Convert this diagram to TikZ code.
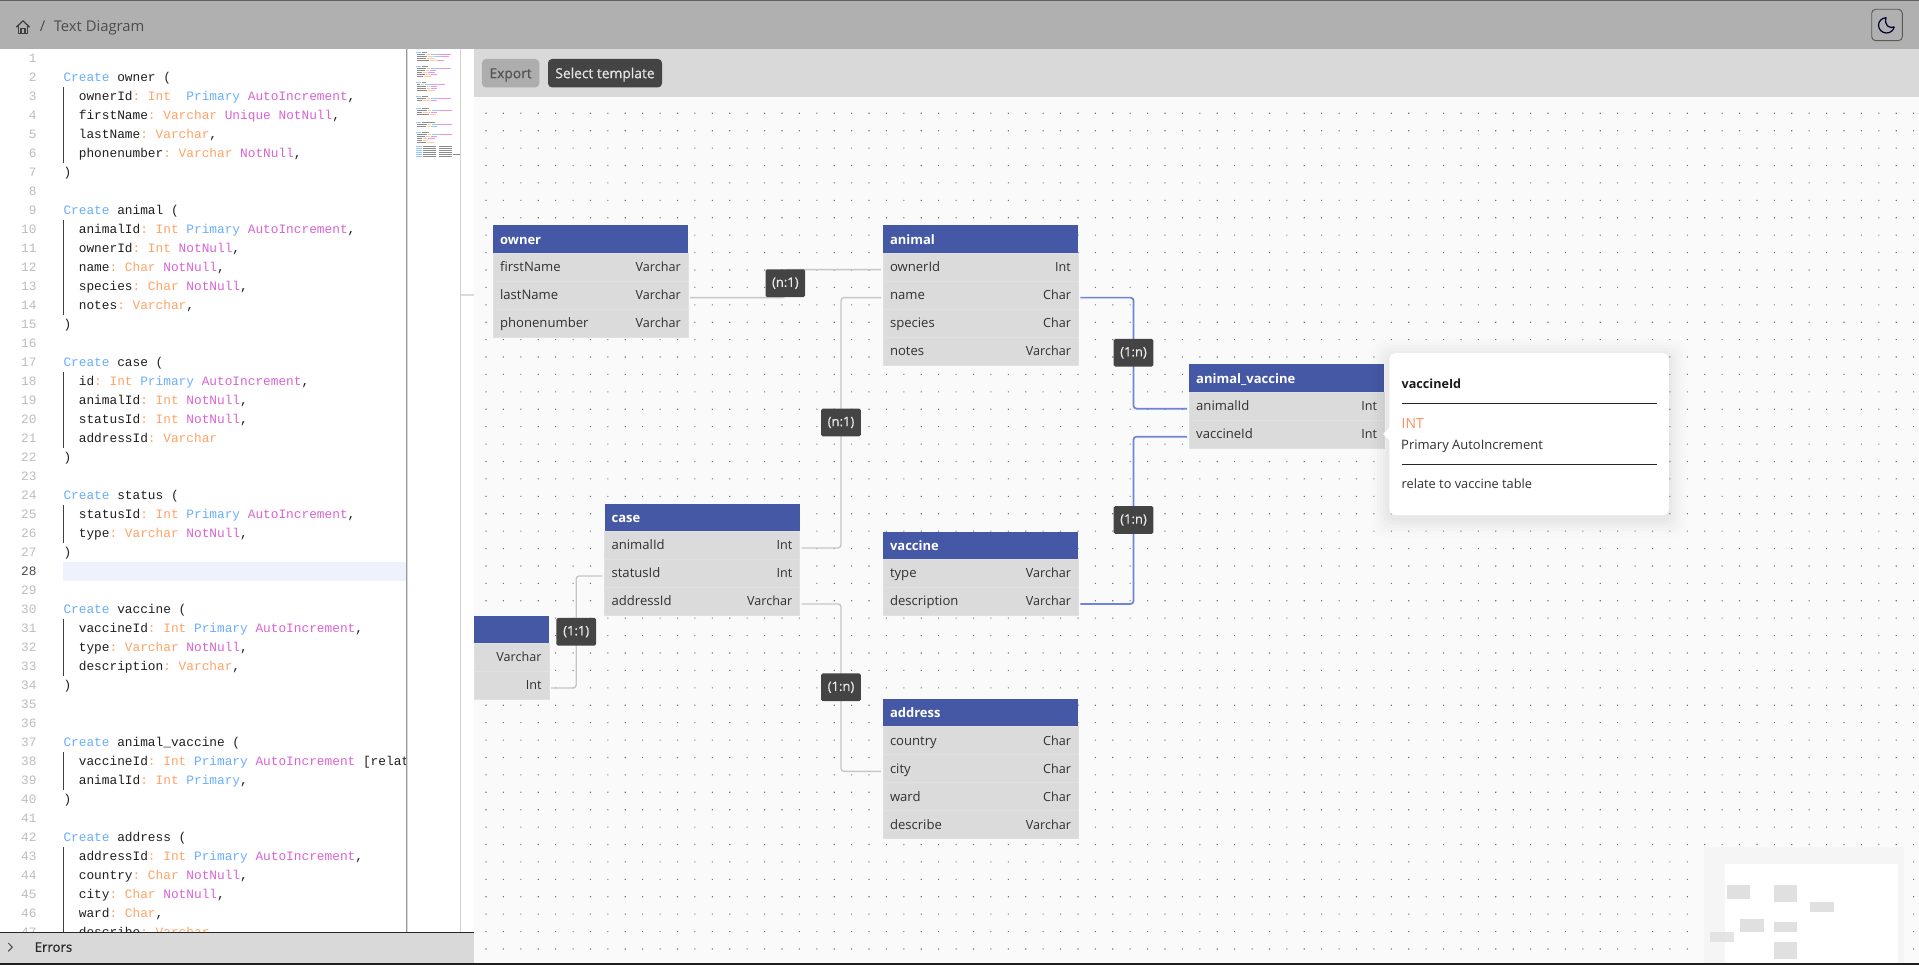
\documentclass[tikz,border=0pt]{standalone}
\usepackage{fontspec}
\setmainfont{Open Sans}
\newfontfamily\monof{Liberation Mono}
\newfontfamily\semib[FakeBold=0.6]{Open Sans}
\usetikzlibrary{calc}
\definecolor{barc}{HTML}{B0B0B0}
\definecolor{toolc}{HTML}{D9D9D9}
\definecolor{canvasc}{HTML}{FAFAFA}
\definecolor{headc}{HTML}{4558A5}
\definecolor{rowc}{HTML}{DBDBDB}
\definecolor{rowl}{HTML}{E0E0E0}
\definecolor{txtc}{HTML}{303030}
\definecolor{edgec}{HTML}{C6C6C6}
\definecolor{edgeb}{HTML}{6E84D8}
\definecolor{lblc}{HTML}{444444}
\definecolor{ckw}{HTML}{69AEFF}
\definecolor{cty}{HTML}{FFA366}
\definecolor{cint}{HTML}{FF9159}
\definecolor{cma}{HTML}{D963D3}
\definecolor{cnum}{HTML}{BDBDBD}
\definecolor{chl}{HTML}{EEF2FC}
\definecolor{mgray}{HTML}{8C8C8C}
\definecolor{mor}{HTML}{FFCB9E}
\definecolor{mbl}{HTML}{96C8FF}
\definecolor{mma}{HTML}{E896E4}
\pgfdeclarelayer{back}
\pgfdeclarelayer{edges}
\pgfsetlayers{back,edges,main}
\newcommand\cK[1]{\textcolor{ckw}{#1}}
\newcommand\cT[1]{\textcolor{cty}{#1}}
\newcommand\cM[1]{\textcolor{cma}{#1}}
\newcommand\cF[1]{#1\textcolor{cty}{:}}
\newcommand\codeline[3]{%
  \node[numtxt] (num#1) at (36.7,{58.7+(#1-1)*19+4.2}) {#1};
  \ifx&#3&\else\node[codetxt] (code#1) at ({63.3+#2*7.68},{58.7+(#1-1)*19+4.2}) {#3};\fi}
\newcommand\tbl[6]{%
  \node[thead,minimum width=#4,anchor=north west] (#1) at (#2,#3) {};
  \node[ttitle] (#1-title) at ({#2+7},{#3+19.2}) {#5};
  \foreach \k/\f/\t [count=\i from 0] in {#6} {
    \node[trow,minimum width=#4,anchor=north west] (#1-\k) at (#2,{#3+27.7+\i*28}) {};
    \node[tfield] (#1-\k-name) at ({#2+7},{#3+27.7+\i*28+18.9}) {\f};
    \node[ttype] (#1-\k-type) at ({#2+#4-7},{#3+27.7+\i*28+18.9}) {\t};
    \coordinate (#1-\k-L) at ([shift={(-2,2.8)}]#1-\k.west);
    \coordinate (#1-\k-R) at ([shift={(2,2.8)}]#1-\k.east);
  }}
\tikzset{
  numtxt/.style={anchor=base east,inner sep=0,font=\monof\frenchspacing\fontsize{12.8}{14}\selectfont,text=cnum},
  codetxt/.style={anchor=base west,inner sep=0,font=\monof\frenchspacing\fontsize{12.8}{14}\selectfont,text=black!88},
  thead/.style={fill=headc,minimum height=27.7,inner sep=0,draw=none},
  ttitle/.style={anchor=base west,inner sep=0,font=\bfseries\fontsize{13}{15}\selectfont,text=white},
  trow/.style={fill=rowc,minimum height=28,inner sep=0,draw=rowl,line width=.3},
  tfield/.style={anchor=base west,inner sep=0,font=\fontsize{13.1}{15}\selectfont,text=txtc},
  ttype/.style={anchor=base east,inner sep=0,font=\fontsize{12.6}{15}\selectfont,text=txtc},
  rellabel/.style={fill=lblc,rounded corners=1.5,minimum width=39.6,minimum height=27.7,inner sep=0,text=white!92!black,font=\semib\fontsize{13}{15}\selectfont},
  edgeg/.style={draw=edgec,line width=1.4,rounded corners=3},
  edgeh/.style={draw=edgeb,line width=1.7,rounded corners=3},
  minirect/.style={fill=black!12},
  btn/.style={rounded corners=4,inner sep=0,minimum height=28.4,font=\semib\fontsize{13.8}{15}\selectfont},
}
\begin{document}
\begin{tikzpicture}[x=1pt,y=-1pt]
\useasboundingbox (0,0) rectangle (1919,965);
\begin{pgfonlayer}{back}
  \fill[white] (0,0) rectangle (1919,965);
  \fill[canvasc] (474,97) rectangle (1919,963);
  \fill[black!55] \foreach \i in {0,...,82} { \foreach \j in {0,...,48} {
    ({486+\i*17.41-.55},{113.3+\j*17.41-.55}) rectangle ++(1.1,1.1) } };
\end{pgfonlayer}
% code panel
\fill[chl] (63,562) rectangle (406,580.7);
\foreach \a/\b in {3/6,10/14,18/21,25/26,31/33,38/39,43/47}
  \draw[black!75,line width=.8] (63.3,{58.7+(\a-1)*19-9.5}) -- (63.3,{58.7+(\b-1)*19+9.5});
\codeline{1}{0}{}
\codeline{2}{0}{\cK{Create} owner (}
\codeline{3}{2}{\cF{ownerId} \cT{Int}\ \ \cK{Primary} \cM{AutoIncrement},}
\codeline{4}{2}{\cF{firstName} \cT{Varchar} \cM{Unique} \cM{NotNull},}
\codeline{5}{2}{\cF{lastName} \cT{Varchar},}
\codeline{6}{2}{\cF{phonenumber} \cT{Varchar} \cM{NotNull},}
\codeline{7}{0}{)}
\codeline{8}{0}{}
\codeline{9}{0}{\cK{Create} animal (}
\codeline{10}{2}{\cF{animalId} \cT{Int} \cK{Primary} \cM{AutoIncrement},}
\codeline{11}{2}{\cF{ownerId} \cT{Int} \cM{NotNull},}
\codeline{12}{2}{\cF{name} \cT{Char} \cM{NotNull},}
\codeline{13}{2}{\cF{species} \cT{Char} \cM{NotNull},}
\codeline{14}{2}{\cF{notes} \cT{Varchar},}
\codeline{15}{0}{)}
\codeline{16}{0}{}
\codeline{17}{0}{\cK{Create} case (}
\codeline{18}{2}{\cF{id} \cT{Int} \cK{Primary} \cM{AutoIncrement},}
\codeline{19}{2}{\cF{animalId} \cT{Int} \cM{NotNull},}
\codeline{20}{2}{\cF{statusId} \cT{Int} \cM{NotNull},}
\codeline{21}{2}{\cF{addressId} \cT{Varchar}}
\codeline{22}{0}{)}
\codeline{23}{0}{}
\codeline{24}{0}{\cK{Create} status (}
\codeline{25}{2}{\cF{statusId} \cT{Int} \cK{Primary} \cM{AutoIncrement},}
\codeline{26}{2}{\cF{type} \cT{Varchar} \cM{NotNull},}
\codeline{27}{0}{)}
\node[numtxt,text=black!70] (num28) at (36.7,{58.7+27*19+4.2}) {28};
\codeline{29}{0}{}
\codeline{30}{0}{\cK{Create} vaccine (}
\codeline{31}{2}{\cF{vaccineId} \cT{Int} \cK{Primary} \cM{AutoIncrement},}
\codeline{32}{2}{\cF{type} \cT{Varchar} \cM{NotNull},}
\codeline{33}{2}{\cF{description} \cT{Varchar},}
\codeline{34}{0}{)}
\codeline{35}{0}{}
\codeline{36}{0}{}
\codeline{37}{0}{\cK{Create} animal\_vaccine (}
\codeline{38}{2}{\cF{vaccineId} \cT{Int} \cK{Primary} \cM{AutoIncrement} [relat}
\codeline{39}{2}{\cF{animalId} \cT{Int} \cK{Primary},}
\codeline{40}{0}{)}
\codeline{41}{0}{}
\codeline{42}{0}{\cK{Create} address (}
\codeline{43}{2}{\cF{addressId} \cT{Int} \cK{Primary} \cM{AutoIncrement},}
\codeline{44}{2}{\cF{country} \cT{Char} \cM{NotNull},}
\codeline{45}{2}{\cF{city} \cT{Char} \cM{NotNull},}
\codeline{46}{2}{\cF{ward} \cT{Char},}
\codeline{47}{2}{\cF{describe} \cT{Varchar}}
% minimap strip
\fill[white] (406,49) rectangle (474,932);
\fill[black!40] (405.6,49) rectangle (407.4,932);
\fill[black!15] (407.4,49) rectangle (408.2,932);
\draw[black!18,line width=.8] (460.5,49) -- (460.5,932);
\foreach \l/\n in {2/5,9/6,17/4,24/6,30/7,37/14,42/7} {
  \fill[mbl] (415.5,{48+\l*2}) rectangle ++(5.7,1.2);
  \fill[mgray] (421.9,{48+\l*2}) rectangle ++({\n*.95},1.2);
}
\foreach \l/\n/\t/\p/\m in {3/8/5/8/13,4/10/8/7/7,5/9/8/0/0,6/12/8/0/7,10/9/4/8/13,11/8/4/0/7,12/5/5/0/7,13/8/5/0/7,14/6/8/0/0,18/3/4/8/13,19/9/4/0/7,20/9/4/0/7,21/10/8/0/0,25/9/4/8/13,26/5/8/0/7,31/10/4/8/13,32/5/8/0/7,33/12/8/0/0,38/10/4/8/13,39/9/4/7/0,43/10/4/8/13,44/8/5/0/7,45/5/5/0/7,46/5/5/0/0,47/9/8/0/0} {
  \fill[mgray] (417.4,{48+\l*2}) rectangle ++({\n*.95},1.2);
  \fill[mor] ({417.4+(\n+1)*.95},{48+\l*2}) rectangle ++({(\t-1)*.95},1.2);
  \fill[mbl] ({417.4+(\n+1+\t)*.95},{48+\l*2}) rectangle ++({\p*.95},1.2);
  \fill[mma] ({417.4+(\n+1+\t+\p)*.95},{48+\l*2}) rectangle ++({\m*.95},1.2);
}
\foreach \l in {49,...,54} {
  \fill[mbl] (415.5,{48+\l*2}) rectangle (421.5,{49.3+\l*2});
  \fill[mgray] (423,{48+\l*2}) rectangle (436,{49.3+\l*2});
  \fill[mgray] (439,{48+\l*2}) rectangle (452,{49.3+\l*2});
}
\fill[mgray] (453,{48+53*2}) rectangle (460,{49.3+53*2});
% errors bar
\fill[toolc] (0,932) rectangle (474,963);
\draw[black!85,line width=.9] (0,932.3) -- (474,932.3);
\draw[black!70,line width=1] (8.3,943) -- (12.3,947.2) -- (8.3,951.4);
\node[anchor=base west,inner sep=0,font=\semib\fontsize{13.2}{15}\selectfont,text=black!85] (errors) at (34.5,951.8) {Errors};
% top bar
\fill[barc] (0,0) rectangle (1919,49);
\fill[black!62] (0,0) rectangle (1919,1);
\draw[black!75,line width=1.3,line join=round] (16.4,27.2) -- (23,20.8) -- (29.6,27.2);
\draw[black!75,line width=1.3,line join=round] (18.2,25.6) -- (18.2,33.6) -- (27.8,33.6) -- (27.8,25.6);
\draw[black!75,line width=1.3] (21,33.6) -- (21,28.6) -- (25,28.6) -- (25,33.6);
\node[anchor=base west,inner sep=0,font=\fontsize{15}{17}\selectfont,text=black!70] (sep) at (39.6,31.3) {/};
\node[anchor=base west,inner sep=0,font=\fontsize{14.8}{17}\selectfont,text=black!70] (crumb) at (53.6,31.3) {Text Diagram};
\draw[black!65,line width=.9,rounded corners=4] (1871.7,9.3) rectangle (1902.3,40.7);
\draw[black!80!blue,line width=1.2,line join=round] (1886,17.7) .. controls (1881.5,18) and (1878.5,21.5) .. (1878.5,25.2) .. controls (1878.5,29.5) and (1882,33) .. (1886.5,33) .. controls (1890.2,33) and (1893.3,30.5) .. (1894.2,27) .. controls (1889,29) and (1884,25) .. (1886,17.7) -- cycle;
% toolbar
\fill[toolc] (474,49) rectangle (1919,97);
\node[btn,fill=black!32,text=black!68,minimum width=57.3,text depth=0pt,text height=10pt] (export) at (510.6,73.2) {Export};
\node[btn,fill=lblc,text=white!90!black,minimum width=114,text depth=0pt,text height=10pt] (template) at (605,73.2) {Select template};
% tables
\tbl{owner}{492.9}{225}{195}{owner}{firstName/firstName/Varchar,lastName/lastName/Varchar,phonenumber/phonenumber/Varchar}
\tbl{animal}{882.8}{225}{195.3}{animal}{ownerId/ownerId/Int,name/name/Char,species/species/Char,notes/notes/Varchar}
\tbl{case}{604.4}{503.3}{195}{case}{animalId/animalId/Int,statusId/statusId/Int,addressId/addressId/Varchar}
\tbl{status}{474}{615.3}{74.7}{}{type//Varchar,statusId//Int}
\tbl{vaccine}{882.8}{531.3}{195.3}{vaccine}{type/type/Varchar,description/description/Varchar}
\tbl{address}{882.8}{698.7}{195.3}{address}{country/country/Char,city/city/Char,ward/ward/Char,describe/describe/Varchar}
\tbl{animalvaccine}{1189}{364}{195.2}{animal\_vaccine}{animalId/animalId/Int,vaccineId/vaccineId/Int}
% relation labels
\node[rellabel] (r1) at (785.3,283.2) {(n:1)};
\node[rellabel] (r2) at (841,422.5) {(n:1)};
\node[rellabel] (r3) at (576.2,631.7) {(1:1)};
\node[rellabel] (r4) at (841,687.3) {(1:n)};
\node[rellabel] (r5) at (1133.5,352.8) {(1:n)};
\node[rellabel] (r6) at (1133.5,520) {(1:n)};
% connectors
\coordinate (stubA) at (461,295);
\coordinate (stubB) at (474,295);
\begin{pgfonlayer}{edges}
  \draw[edgeg] (owner-lastName-R) -| (r1.center) |- (animal-ownerId-L);
  \draw[edgeg] (case-animalId-R) -| (r2.center) |- (animal-name-L);
  \draw[edgeg] (status-statusId-R) -| (r3.center) |- (case-statusId-L);
  \draw[edgeg] (case-addressId-R) -| (r4.center) |- (address-city-L);
  \draw[edgeh] (animal-name-R) -| (r5.center) |- (animalvaccine-animalId-L);
  \draw[edgeh] (vaccine-description-R) -| (r6.center) |- (animalvaccine-vaccineId-L);
\end{pgfonlayer}
\draw[black!14,line width=1.3] (stubA) -- (stubB);
% minimap of the canvas
\fill[black!4] (1704,847.3) rectangle (1904,963);
\fill[white] (1725,864) rectangle (1898,963);
\fill[minirect] (1727,885) rectangle (1750,899);
\fill[minirect] (1774,885) rectangle (1797,902);
\fill[minirect] (1810,902) rectangle (1834,912);
\fill[minirect] (1740,919) rectangle (1764,932);
\fill[minirect] (1774,922) rectangle (1797,932);
\fill[minirect,opacity=.85] (1710,932) rectangle (1734,942);
\fill[minirect] (1774,942) rectangle (1797,959);
% tooltip
\foreach \s/\o in {18/.006,15/.008,12/.01,9/.012,6/.014,3/.016}
  \fill[black,opacity=\o,rounded corners=10] ({1389.2-\s},{353-\s+4}) rectangle ({1668.6+\s},{515+\s+4});
\node[fill=white,rounded corners=6,minimum width=279.4,minimum height=162,inner sep=0,anchor=north west] (tip) at (1389.2,353) {};
\fill[white] (1390,427) -- (1383,434) -- (1390,441) -- cycle;
\node[anchor=base west,inner sep=0,font=\bfseries\fontsize{12.6}{15}\selectfont,text=black!90] (tipname) at (1401.5,388.8) {vaccineId};
\draw[black!85,line width=.9] (1401.5,403) -- (1656.7,403);
\node[anchor=base west,inner sep=0,font=\fontsize{14}{15}\selectfont,text=cint] (tiptype) at (1401.5,428.5) {INT};
\node[anchor=base west,inner sep=0,font=\fontsize{13}{15}\selectfont,text=txtc] (tipattr) at (1401,449.8) {Primary AutoIncrement};
\draw[black!85,line width=.9] (1401.5,464.3) -- (1656.7,464.3);
\node[anchor=base west,inner sep=0,font=\fontsize{12.8}{15}\selectfont,text=txtc] (tipnote) at (1401.5,488.8) {relate to vaccine table};
% bottom edge
\fill[black!88] (0,963) rectangle (1919,965);
\end{tikzpicture}
\end{document}
